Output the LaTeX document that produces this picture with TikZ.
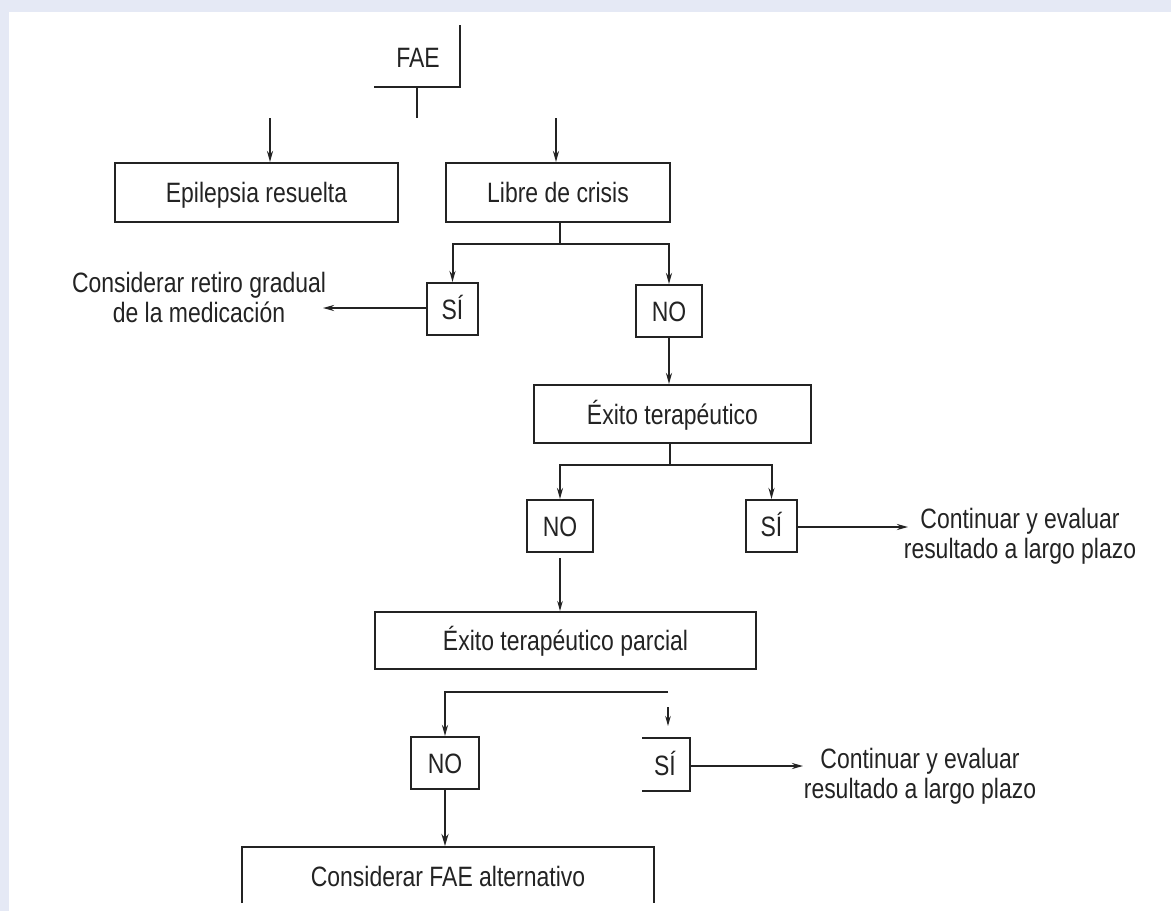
\documentclass[tikz,border=0pt]{standalone}
\usepackage{fontspec}
\setmainfont{Liberation Sans}[FakeStretch=0.82]
\usetikzlibrary{arrows.meta}
\definecolor{bgblue}{HTML}{E5E9F5}
\definecolor{ink}{HTML}{232323}
\tikzset{
  bx/.style={draw=ink, line width=2pt, inner sep=0pt, text=ink, text height=20pt, text depth=0pt, font=\fontsize{28}{30}\selectfont},
  lbl/.style={inner sep=0pt, text=ink, align=center, font=\fontsize{28}{30}\selectfont},
  ln/.style={draw=ink, line width=2pt},
  arr/.style={ln, -{Stealth[length=11pt,width=6pt]}},
  thinarr/.style={draw=ink, line width=1.3pt, -{Stealth[length=10pt,width=5.5pt]}},
  thickarr/.style={draw=ink, line width=2.8pt, -{Stealth[length=12pt,width=7pt]}}
}
\begin{document}
\begin{tikzpicture}[x=1pt,y=-1pt]
\useasboundingbox (0,0) rectangle (1171,911);
\fill[bgblue] (0,0) rectangle (1171,911);
\fill[white] (8.5,11.5) rectangle (1171,911);

% FAE
\node[lbl] (fae) at (418,58) {FAE};
\draw[ln] (460,25) -- (460,87) -- (374,87);
\draw[ln] (417,87) -- (417,118);

% first row
\node[bx, minimum width=283pt, minimum height=59pt] (epi) at (256.5,192.5) {Epilepsia resuelta};
\node[bx, minimum width=224pt, minimum height=59pt] (lib) at (558,192.5) {Libre de crisis};
\coordinate (fa) at (270,118);
\coordinate (fb) at (556,118);
\draw[arr] (fa) -- (fa |- epi.north);
\draw[arr] (fb) -- (fb |- lib.north);

% SI / NO after Libre
\node[bx, minimum width=51pt, minimum height=52pt] (si1) at (452.5,309) {SÍ};
\node[bx, minimum width=66pt, minimum height=52pt] (no1) at (669,311) {NO};
\coordinate (j1) at (560,244);
\draw[ln] (lib.south -| j1) -- (j1);
\draw[arr] (j1) -| (si1.north);
\draw[arr] (j1) -| (no1.north);
\node[lbl] (c1) at (199,297) {Considerar retiro gradual\\de la medicación};
\coordinate (c1e) at (323,308);
\draw[arr] (si1.west |- c1e) -- (c1e);

% Exito terapeutico
\node[bx, minimum width=277pt, minimum height=58pt] (exi) at (672.5,414) {Éxito terapéutico};
\draw[arr] (no1.south) -- (no1.south |- exi.north);

\node[bx, minimum width=66pt, minimum height=52pt] (no2) at (560,526) {NO};
\node[bx, minimum width=51pt, minimum height=52pt] (si2) at (771.5,526) {SÍ};
\coordinate (j2) at (670,465);
\draw[ln] (exi.south -| j2) -- (j2);
\draw[arr] (j2) -| (no2.north);
\draw[arr] (j2) -| (si2.north);
\node[lbl] (c2) at (1020,536) {Continuar y evaluar\\resultado a largo plazo};
\coordinate (c2e) at (908,527);
\draw[arr] (si2.east |- c2e) -- (c2e);

% Exito parcial
\node[bx, minimum width=381pt, minimum height=57pt] (par) at (565.5,640.5) {Éxito terapéutico parcial};
\coordinate (n2s) at (560,558);
\draw[thinarr] (n2s) -- (n2s |- par.north);

\node[bx, minimum width=68pt, minimum height=52pt] (no3) at (445,763) {NO};
\node[lbl, text height=20pt, text depth=0pt] (si3) at (665,765) {SÍ};
\draw[ln] (642,738) -- (690,738) -- (690,791) -- (642,791);
\coordinate (j3) at (668,692);
\draw[arr] (j3) -| (no3.north);
\coordinate (r3) at (668,707);
\draw[thinarr] (r3) -- (668,726);
\node[lbl] (c3) at (920,776) {Continuar y evaluar\\resultado a largo plazo};
\coordinate (c3e) at (803,766);
\draw[arr] (690,766) -- (c3e);

% Considerar FAE alternativo
\node[lbl] (alt) at (448,876) {Considerar FAE alternativo};
\draw[ln] (242,903) -- (242,847) -- (654,847) -- (654,903);
\draw[thickarr] (no3.south) -- (445,846);
\end{tikzpicture}
\end{document}
